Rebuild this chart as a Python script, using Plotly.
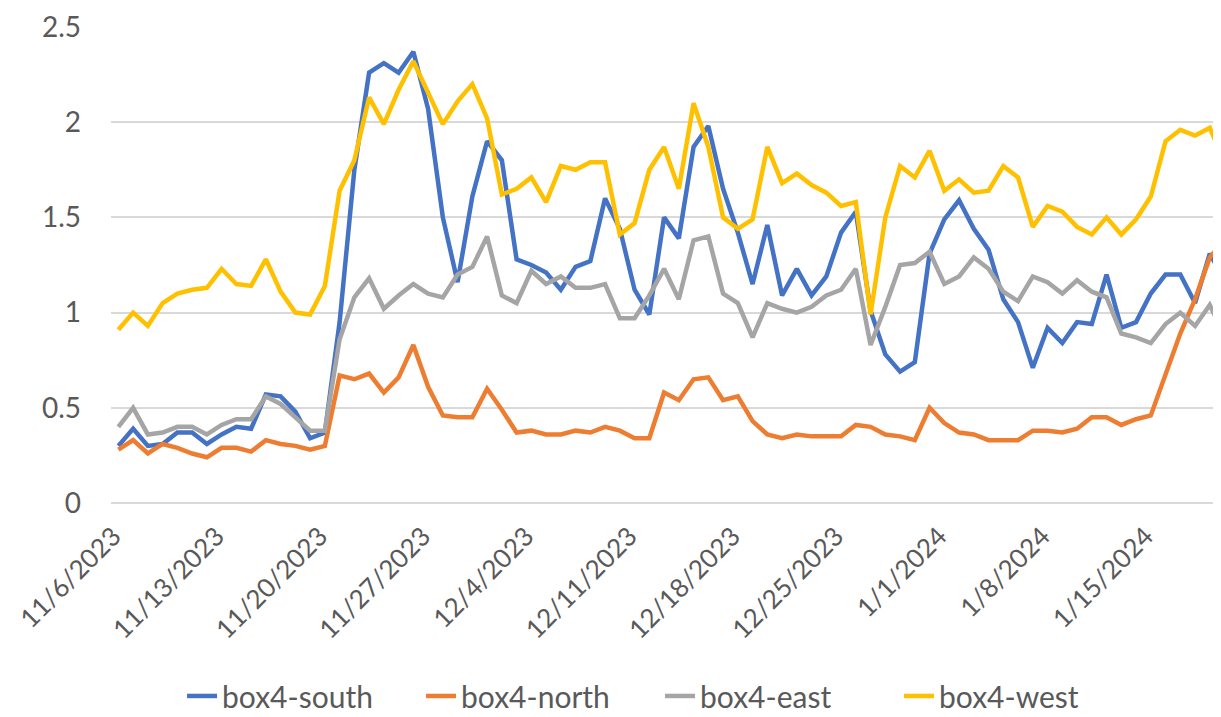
import plotly.graph_objects as go
import pandas as pd

FONT = "Lato"
TXT_CLR = "#595959"
GRID_CLR = "#d9d9d9"

BLUE = "#4472C4"
ORANGE = "#ED7D31"
GRAY = "#A5A5A5"
YELLOW = "#FFC000"

# daily readings, 11/6/2023 .. 1/20/2024
dates = pd.date_range("2023-11-06", "2024-01-20", freq="D")

south = [0.30, 0.39, 0.30, 0.31, 0.37, 0.37, 0.31, 0.36, 0.40, 0.39,
         0.57, 0.56, 0.48, 0.34, 0.37, 0.95, 1.75, 2.26, 2.31, 2.26,
         2.37, 2.07, 1.50, 1.16, 1.61, 1.90, 1.80, 1.28, 1.25, 1.21,
         1.12, 1.24, 1.27, 1.60, 1.44, 1.12, 0.99, 1.50, 1.39, 1.87,
         1.98, 1.65, 1.42, 1.15, 1.46, 1.09, 1.23, 1.09, 1.19, 1.42,
         1.53, 1.01, 0.78, 0.69, 0.74, 1.31, 1.49, 1.59, 1.44, 1.33,
         1.07, 0.95, 0.71, 0.92, 0.84, 0.95, 0.94, 1.20, 0.92, 0.95,
         1.10, 1.20, 1.20, 1.05, 1.31, 1.17]

north = [0.28, 0.33, 0.26, 0.31, 0.29, 0.26, 0.24, 0.29, 0.29, 0.27,
         0.33, 0.31, 0.30, 0.28, 0.30, 0.67, 0.65, 0.68, 0.58, 0.66,
         0.83, 0.61, 0.46, 0.45, 0.45, 0.60, 0.49, 0.37, 0.38, 0.36,
         0.36, 0.38, 0.37, 0.40, 0.38, 0.34, 0.34, 0.58, 0.54, 0.65,
         0.66, 0.54, 0.56, 0.43, 0.36, 0.34, 0.36, 0.35, 0.35, 0.35,
         0.41, 0.40, 0.36, 0.35, 0.33, 0.50, 0.42, 0.37, 0.36, 0.33,
         0.33, 0.33, 0.38, 0.38, 0.37, 0.39, 0.45, 0.45, 0.41, 0.44,
         0.46, 0.68, 0.89, 1.07, 1.29, 1.38]

east = [0.40, 0.50, 0.36, 0.37, 0.40, 0.40, 0.36, 0.41, 0.44, 0.44,
        0.56, 0.52, 0.45, 0.38, 0.38, 0.86, 1.08, 1.18, 1.02, 1.09,
        1.15, 1.10, 1.08, 1.20, 1.24, 1.40, 1.09, 1.05, 1.22, 1.15,
        1.19, 1.13, 1.13, 1.15, 0.97, 0.97, 1.09, 1.23, 1.07, 1.38,
        1.40, 1.10, 1.05, 0.87, 1.05, 1.02, 1.00, 1.03, 1.09, 1.12,
        1.23, 0.83, 1.03, 1.25, 1.26, 1.32, 1.15, 1.19, 1.29, 1.23,
        1.11, 1.06, 1.19, 1.16, 1.10, 1.17, 1.11, 1.08, 0.89, 0.87,
        0.84, 0.94, 1.00, 0.93, 1.04, 0.88]

west = [0.91, 1.00, 0.93, 1.05, 1.10, 1.12, 1.13, 1.23, 1.15, 1.14,
        1.28, 1.11, 1.00, 0.99, 1.14, 1.64, 1.80, 2.13, 1.99, 2.17,
        2.32, 2.16, 1.99, 2.11, 2.20, 2.02, 1.62, 1.65, 1.71, 1.58,
        1.77, 1.75, 1.79, 1.79, 1.41, 1.47, 1.75, 1.87, 1.65, 2.10,
        1.87, 1.50, 1.44, 1.49, 1.87, 1.68, 1.73, 1.67, 1.63, 1.56,
        1.58, 0.99, 1.50, 1.77, 1.71, 1.85, 1.64, 1.70, 1.63, 1.64,
        1.77, 1.71, 1.45, 1.56, 1.53, 1.45, 1.41, 1.50, 1.41, 1.49,
        1.61, 1.90, 1.96, 1.93, 1.97, 1.79]

fig = go.Figure()
for name, ys, color in [
    ("box4-south", south, BLUE),
    ("box4-north", north, ORANGE),
    ("box4-east",  east,  GRAY),
    ("box4-west",  west,  YELLOW),
]:
    fig.add_trace(go.Scatter(x=dates, y=ys, name=name, mode="lines",
                             line=dict(color=color, width=4.5)))

# page body has an 8px margin, so the figure is 8px smaller than the window
fig.update_layout(
    width=1213, height=709,
    paper_bgcolor="white", plot_bgcolor="white",
    font=dict(family=FONT, size=28, color=TXT_CLR),
    margin=dict(l=103, r=0, t=19, b=214, autoexpand=False),
    showlegend=True,
    legend=dict(orientation="h", x=0.064, xanchor="left",
                y=-0.46, yanchor="bottom",
                font=dict(size=30, color=TXT_CLR),
                entrywidth=194, entrywidthmode="pixels"),
)
fig.update_xaxes(
    type="date",
    range=["2023-11-05 12:00", "2024-01-19 18:15"],
    tick0="2023-11-06", dtick=7 * 86400000,
    tickformat="%-m/%-d/%Y", tickangle=-45,
    showgrid=False, zeroline=False, showline=False,
    ticklabelstandoff=12, ticklabelshift=-5,
    ticklabeloverflow="allow",
    tickfont=dict(size=26, color=TXT_CLR),
)
fig.update_yaxes(
    range=[0, 2.5], dtick=0.5,
    showgrid=True, gridcolor=GRID_CLR, gridwidth=1.5,
    zeroline=True, zerolinecolor=GRID_CLR, zerolinewidth=1.5,
    showline=False, ticklabelstandoff=29,
    tickfont=dict(size=28, color=TXT_CLR),
)

fig.write_html("out.html")
